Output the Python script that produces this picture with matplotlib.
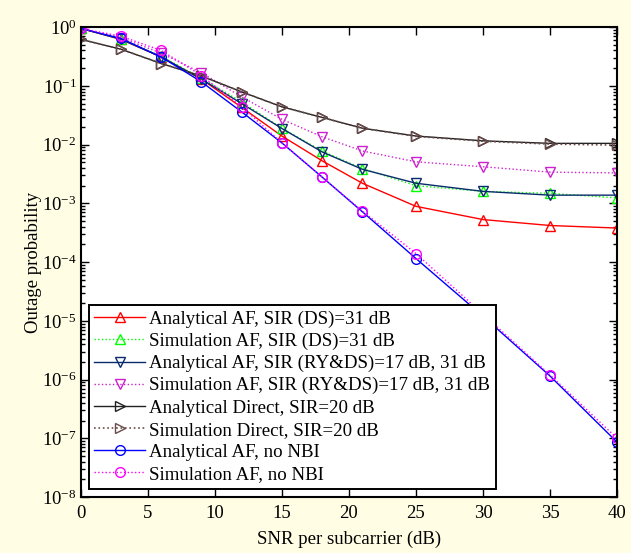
import numpy as np
import matplotlib
matplotlib.use('Agg')
import matplotlib.pyplot as plt
from matplotlib.ticker import FixedLocator, NullFormatter

plt.rcParams['font.family'] = ['Liberation Serif', 'DejaVu Serif']
plt.rcParams['mathtext.fontset'] = 'stix'

# SNR points (dB)
snr = [0, 3, 6, 9, 12, 15, 18, 21, 25, 30, 35, 40]

# outage probabilities
ana_af_ds = [0.95, 0.62, 0.31, 0.13, 0.043, 0.014, 0.0053, 0.0022, 0.00089, 0.00053, 0.00042, 0.00038]
sim_af_ds = [0.95, 0.63, 0.32, 0.135, 0.053, 0.019, 0.0078, 0.0039, 0.0020, 0.0016, 0.00148, 0.00124]
ana_af_ryds = [0.95, 0.62, 0.31, 0.13, 0.050, 0.0188, 0.0075, 0.0038, 0.0022, 0.0016, 0.00138, 0.00138]
sim_af_ryds = [0.95, 0.66, 0.36, 0.167, 0.065, 0.027, 0.0136, 0.0078, 0.0051, 0.0042, 0.0034, 0.0033]
ana_direct = [0.62, 0.42, 0.24, 0.147, 0.079, 0.044, 0.029, 0.019, 0.0140, 0.0116, 0.0105, 0.0105]
sim_direct = [0.62, 0.42, 0.24, 0.147, 0.079, 0.044, 0.029, 0.019, 0.0138, 0.0114, 0.0102, 0.0098]
ana_af_nonbi = [0.95, 0.64, 0.31, 0.117, 0.036, 0.0107, 0.0028, 0.00072, 0.000115, 1.2e-5, 1.15e-6, 8.6e-8]
sim_af_nonbi = [0.95, 0.70, 0.40, 0.15, 0.044, 0.0107, 0.0028, 0.00074, 0.000140, 1.3e-5, 1.2e-6, 1.0e-7]

labels = ["Analytical AF, SIR (DS)=31 dB",
          "Simulation AF, SIR (DS)=31 dB",
          "Analytical AF, SIR (RY&DS)=17 dB, 31 dB",
          "Simulation AF, SIR (RY&DS)=17 dB, 31 dB",
          "Analytical Direct, SIR=20 dB",
          "Simulation Direct, SIR=20 dB",
          "Analytical AF, no NBI",
          "Simulation AF, no NBI"]

fig = plt.figure(figsize=(6.31, 5.53), dpi=100, facecolor='#FFFEE4')
ax = fig.add_axes([0.128, 0.101, 0.850, 0.850])

ms = 7
mew = 1.0
ax.semilogy(snr, ana_af_ds, '-', color='#FF0000', marker='^', mfc='none', ms=ms, mew=mew, lw=1.0, label=labels[0])
ax.semilogy(snr, sim_af_ds, ':', color='#00FF00', marker='^', mfc='none', ms=ms, mew=mew, lw=1.0, label=labels[1])
ax.semilogy(snr, ana_af_ryds, '-', color='#0A2A6E', marker='v', mfc='none', ms=ms, mew=mew, lw=1.0, label=labels[2])
ax.semilogy(snr, sim_af_ryds, ':', color='#CC22CC', marker='v', mfc='none', ms=ms, mew=mew, lw=1.0, label=labels[3])
ax.semilogy(snr, ana_direct, '-', color='#222222', marker='>', mfc='none', ms=ms, mew=mew, lw=1.0, label=labels[4])
ax.semilogy(snr, sim_direct, ':', color='#6B4A4A', marker='>', mfc='none', ms=ms, mew=mew, lw=1.2, label=labels[5])
ax.semilogy(snr, ana_af_nonbi, '-', color='#0000FF', marker='o', mfc='none', ms=ms, mew=mew, lw=1.0, label=labels[6])
ax.semilogy(snr, sim_af_nonbi, ':', color='#FF00FF', marker='o', mfc='none', ms=ms, mew=mew, lw=1.0, label=labels[7])

ax.set_xlim(0, 40)
ax.set_ylim(1e-8, 1)
ax.set_xticks(np.arange(0, 41, 5))
decades = np.arange(-8, 1)
ax.yaxis.set_major_locator(FixedLocator(10.0 ** decades))
minor = [m * 10.0 ** d for d in decades[:-1] for m in range(2, 10)]
ax.yaxis.set_minor_locator(FixedLocator(minor))
ax.yaxis.set_minor_formatter(NullFormatter())
ax.tick_params(which='both', direction='in', top=True, right=True, labelsize=13.5, width=1.0)
ax.tick_params(which='major', length=6)
ax.tick_params(axis='y', which='major', pad=3)
ax.tick_params(axis='x', which='major', pad=6)
ax.tick_params(which='minor', length=3)
for s in ax.spines.values():
    s.set_linewidth(1.5)

ax.set_xlabel("SNR per subcarrier (dB)", fontsize=13.5, labelpad=6)
ax.set_ylabel("Outage probability", fontsize=13.5, labelpad=0)

leg = ax.legend(loc='lower left', bbox_to_anchor=(0.004, 0.006), fontsize=13.6,
                handlelength=2.7, fancybox=False, framealpha=1, edgecolor='black',
                borderpad=0.3, labelspacing=0.26, handletextpad=0.2, borderaxespad=0.3)
leg.get_frame().set_linewidth(1.4)

fig.savefig('out.png', dpi=100, facecolor=fig.get_facecolor())
